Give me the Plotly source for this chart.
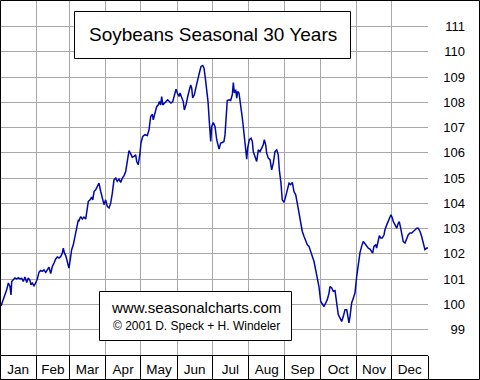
import plotly.graph_objects as go

# ---------------- data ----------------
months = ["Jan", "Feb", "Mar", "Apr", "May", "Jun", "Jul", "Aug", "Sep", "Oct", "Nov", "Dec"]
month_days = [31, 28, 31, 30, 31, 30, 31, 31, 30, 31, 30, 31]
y_ticks = [99, 100, 101, 102, 103, 104, 105, 106, 107, 108, 109, 110, 111]

days = [
    0.9, 2.8, 5.7, 7.1, 8.5, 9.4, 10.0, 11.3, 12.8, 14.2, 15.6, 17.1, 18.5, 19.9, 21.3, 22.8, 24.1, 25.6, 26.4, 27.5, 29.0, 30.4, 31.8,
    33.3, 34.7, 36.1, 37.5, 39.0, 40.3, 41.8, 43.2, 44.6, 46.1, 47.5, 48.9, 50.3, 51.8, 53.1, 54.0, 54.8, 56.3, 57.7, 58.8,
    60.3, 61.1, 62.5, 64.0, 65.4, 66.8, 67.4, 68.8, 70.2, 71.6, 73.1, 74.4, 75.3, 76.8, 78.2, 79.1, 80.2, 81.6, 83.0, 84.4, 85.9, 87.2, 88.7,
    90.1, 91.5, 93.0, 94.4, 95.8, 97.2, 98.7, 100.0, 101.5, 102.9, 104.3, 105.7, 107.2, 108.6, 110.0, 111.5, 112.8, 114.3, 115.7, 116.6, 117.9, 119.4,
    120.2, 121.7, 123.1, 123.7, 125.6, 127.1, 128.5, 129.9, 130.7, 132.2, 133.6, 135.0, 135.9, 137.0, 137.9, 138.8, 140.1, 141.6, 143.0, 144.4, 145.8, 147.3, 148.6, 150.1,
    151.2, 152.7, 153.5, 155.0, 156.3, 157.2, 158.6, 160.1, 161.4, 162.6, 163.5, 164.3, 165.7, 167.1, 168.6, 170.0, 171.4, 172.9, 174.0, 175.1, 176.3, 177.4, 178.5, 179.7, 180.5,
    181.9, 183.4, 184.8, 186.8, 188.2, 189.6, 191.0, 191.9, 192.7, 193.8, 195.3, 196.7, 198.1, 199.0, 199.8, 201.0, 201.9, 202.7, 203.8, 204.7, 206.1, 207.0, 208.3, 209.5, 210.4, 211.2,
    212.6, 214.1, 215.2, 216.0, 217.5, 218.9, 220.3, 221.7, 223.2, 224.5, 225.4, 226.6, 227.4, 228.8, 230.3, 231.7, 233.1, 234.5, 236.0, 237.3, 238.2, 239.6, 240.7, 242.2,
    243.6, 245.0, 246.5, 247.9, 249.3, 250.7, 252.2, 253.5, 255.0, 256.4, 257.8, 259.3, 260.7, 262.1, 263.5, 265.0, 266.3, 267.8, 269.2, 270.6, 272.0,
    273.5, 274.9, 276.3, 277.8, 279.1, 280.6, 281.4, 282.9, 284.2, 285.7, 287.1, 288.5, 290.0, 291.4, 292.8, 294.2, 295.7, 296.5, 297.6, 298.5, 299.9, 301.3, 302.7,
    304.2, 305.6, 307.0, 308.5, 309.8, 311.3, 312.7, 314.1, 315.5, 317.0, 317.8, 318.9, 320.4, 321.2, 322.6, 323.5, 324.7, 326.0, 327.5, 328.3, 329.8, 331.1, 332.6,
    333.4, 334.6, 335.4, 336.9, 338.3, 339.7, 340.5, 341.7, 342.6, 343.9, 345.4, 346.8, 348.2, 349.7, 351.1, 352.5, 353.9, 355.4, 356.7, 358.2, 359.6, 361.0, 362.4, 363.9, 365.0,
]

values = [
    99.95, 100.19, 100.58, 100.85, 100.71, 100.38, 100.91, 100.98, 101.05, 101.01, 101.05, 101.02, 101.03, 100.91, 101.09, 100.87, 101.05, 100.95, 100.78, 100.85, 100.74, 100.85, 101.01,
    101.28, 101.35, 101.31, 101.37, 101.27, 101.40, 101.48, 101.22, 101.50, 101.64, 101.80, 101.88, 101.84, 101.90, 102.03, 102.23, 102.06, 101.90, 101.57, 101.44,
    101.90, 102.17, 102.36, 102.69, 103.02, 103.35, 103.32, 103.48, 103.38, 103.46, 103.38, 103.75, 104.08, 104.14, 104.25, 104.14, 104.47, 104.54, 104.65, 104.80, 104.47, 104.21, 103.95,
    104.14, 103.88, 103.82, 104.01, 104.41, 104.93, 105.00, 104.87, 104.96, 104.83, 105.00, 105.09, 105.26, 105.60, 106.09, 105.96, 105.83, 105.86, 105.92, 105.66, 105.53, 105.99,
    106.39, 106.65, 106.69, 106.72, 106.69, 106.91, 107.44, 107.53, 107.31, 107.57, 107.83, 107.90, 108.03, 107.90, 108.23, 107.90, 107.97, 108.03, 108.10, 108.03, 107.97, 108.03, 108.23, 108.52,
    108.37, 108.23, 108.37, 108.17, 108.03, 107.70, 107.90, 108.23, 108.43, 108.69, 108.56, 108.17, 108.30, 108.63, 108.89, 109.16, 109.42, 109.46, 109.35, 108.96, 108.56, 108.03, 107.24, 106.45, 107.04,
    107.20, 107.04, 106.52, 106.15, 106.39, 106.41, 106.45, 106.72, 107.44, 108.07, 108.10, 108.07, 108.30, 108.78, 108.37, 108.50, 108.17, 108.43, 108.37, 107.97, 107.57, 107.24, 106.72, 106.19, 105.75, 106.19,
    106.52, 106.58, 106.45, 106.05, 105.86, 105.66, 106.12, 106.05, 106.19, 106.32, 106.52, 106.32, 105.99, 105.79, 105.73, 105.33, 105.60, 106.05, 106.12, 105.92, 105.33, 104.80, 104.14, 104.04,
    104.27, 104.54, 104.80, 104.74, 104.83, 104.47, 104.34, 104.01, 103.62, 103.09, 102.89, 102.69, 102.49, 102.36, 102.30, 102.10, 101.97, 101.70, 101.37, 101.05, 100.71,
    100.12, 99.99, 99.92, 100.06, 100.19, 100.45, 100.71, 100.65, 100.52, 100.55, 100.12, 99.59, 99.46, 99.33, 99.53, 99.79, 99.79, 99.53, 99.27, 99.53, 100.06, 100.25, 100.45,
    101.11, 101.57, 102.05, 102.32, 102.49, 102.40, 102.30, 102.23, 102.19, 102.10, 102.03, 102.30, 102.36, 102.23, 102.56, 102.72, 102.63, 102.63, 102.76, 102.96, 103.15, 103.28, 103.42,
    103.55, 103.42, 103.28, 103.15, 103.02, 103.22, 103.28, 103.02, 102.76, 102.49, 102.43, 102.63, 102.76, 102.83, 102.83, 102.89, 102.96, 103.02, 103.02, 102.89, 102.69, 102.43, 102.17, 102.23, 102.23,
]

title_text = "Soybeans Seasonal 30 Years"
credit_1 = "www.seasonalcharts.com"
credit_2 = "© 2001 D. Speck + H. Windeler"

# ---------------- derived ----------------
bounds = [0]
for d in month_days:
    bounds.append(bounds[-1] + d)
mids = [(bounds[i] + bounds[i + 1]) / 2 for i in range(12)]

W, H = 480, 380
PLOT_W, PLOT_H = 428, 355
FONT = "Liberation Sans, Arial, sans-serif"

def px(x):
    return x / W

def py(y):
    return 1 - y / H

fig = go.Figure()
fig.add_trace(go.Scatter(
    x=days, y=values, mode="lines",
    line=dict(color="#0008a8", width=1.5),
    hoverinfo="skip", showlegend=False,
))
# invisible trace to create the label axis for months
fig.add_trace(go.Scatter(x=[mids[0]], y=[values[0]], xaxis="x2", mode="lines",
                         line=dict(width=0), hoverinfo="skip", showlegend=False))

fig.update_layout(
    width=W, height=H,
    margin=dict(l=0, r=0, t=0, b=0, pad=0),
    paper_bgcolor="white", plot_bgcolor="white",
    template="none",
    font=dict(family=FONT, color="black"),
    showlegend=False,
    xaxis=dict(
        domain=[0, PLOT_W / W], range=[0, 365],
        tickmode="array", tickvals=bounds, showticklabels=False,
        ticks="outside", ticklen=H - PLOT_H, tickcolor="black", tickwidth=1,
        showgrid=True, gridcolor="#a8a8a8", gridwidth=1,
        showline=True, linecolor="black", linewidth=1,
        zeroline=False, automargin=False, fixedrange=True, anchor="y",
    ),
    xaxis2=dict(
        overlaying="x", range=[0, 365], anchor="y", side="bottom",
        tickmode="array", tickvals=mids, ticktext=months,
        ticks="", showgrid=False, showline=False, zeroline=False,
        tickfont=dict(family=FONT, size=13.5, color="black"),
        ticklabelstandoff=4,
        automargin=False, fixedrange=True,
    ),
    yaxis=dict(
        domain=[(H - PLOT_H) / H, 1], range=[98, 112.05],
        tickmode="array", tickvals=y_ticks, ticktext=[str(v) for v in y_ticks],
        side="left", anchor="free", position=px(465),
        ticks="", showline=False, zeroline=False,
        showgrid=True, gridcolor="#a8a8a8", gridwidth=1,
        tickfont=dict(family=FONT, size=13, color="black"),
        automargin=False, fixedrange=True,
    ),
)

shapes = [
    # outer frame
    dict(type="rect", xref="paper", yref="paper", x0=px(0.5), x1=px(479.5), y0=py(0.5), y1=py(379.5),
         line=dict(color="black", width=1), fillcolor="rgba(0,0,0,0)", layer="above"),
    # title box
    dict(type="rect", xref="paper", yref="paper", x0=px(74.5), x1=px(350.5), y0=py(11.5), y1=py(58.5),
         line=dict(color="black", width=1), fillcolor="white", layer="above"),
    # credit box
    dict(type="rect", xref="paper", yref="paper", x0=px(99.5), x1=px(291.5), y0=py(291.5), y1=py(340.5),
         line=dict(color="black", width=1), fillcolor="white", layer="above"),
]
fig.update_layout(shapes=shapes)

fig.add_annotation(x=px(213), y=py(35), xref="paper", yref="paper", text=title_text,
                   showarrow=False, xanchor="center", yanchor="middle",
                   font=dict(family=FONT, size=19, color="black"))
fig.add_annotation(x=px(196), y=py(307.5), xref="paper", yref="paper", text=credit_1,
                   showarrow=False, xanchor="center", yanchor="middle",
                   font=dict(family=FONT, size=15, color="black"))
fig.add_annotation(x=px(196), y=py(325.5), xref="paper", yref="paper", text=credit_2,
                   showarrow=False, xanchor="center", yanchor="middle",
                   font=dict(family=FONT, size=12, color="black"))

fig.write_html(
    "out.html",
    config={"displayModeBar": False},
    post_script="document.body.style.margin='0';document.body.style.padding='0';document.body.style.overflow='hidden';",
)
